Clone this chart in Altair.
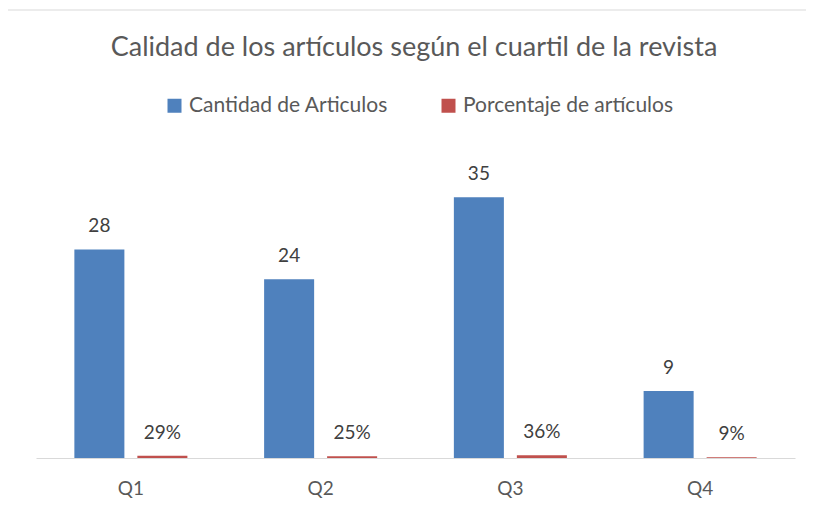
import altair as alt
import pandas as pd

categories = ["Q1", "Q2", "Q3", "Q4"]
cantidad = [28, 24, 35, 9]
porcentaje = [0.29, 0.25, 0.36, 0.09]
series_names = ["Cantidad de Articulos", "Porcentaje de artículos"]
colors = ["#4f81bd", "#c0504d"]
title_text = "Calidad de los artículos según el cuartil de la revista"

rows = []
for c, n, p in zip(categories, cantidad, porcentaje):
    rows.append({"cuartil": c, "serie": series_names[0], "valor": n, "etiqueta": f"{n}"})
    rows.append({"cuartil": c, "serie": series_names[1], "valor": p, "etiqueta": f"{round(p * 100)}%"})
df = pd.DataFrame(rows)

FONT = "Lato"

base = alt.Chart(df).encode(
    x=alt.X(
        "cuartil:N",
        sort=categories,
        scale=alt.Scale(paddingInner=0, paddingOuter=0),
        axis=alt.Axis(
            title=None, labelAngle=0, ticks=False, domainColor="#d9d9d9",
            domainWidth=1, labelFontSize=19, labelColor="#595959",
            labelPadding=21, labelFont=FONT,
        ),
    ),
    xOffset=alt.XOffset(
        "serie:N", sort=series_names,
        scale=alt.Scale(paddingInner=0.206, paddingOuter=0.609),
    ),
    y=alt.Y("valor:Q", scale=alt.Scale(domain=[0, 40]), axis=None),
)

bars = base.mark_bar().encode(
    color=alt.Color(
        "serie:N",
        scale=alt.Scale(domain=series_names, range=colors),
        legend=alt.Legend(
            title=None, orient="none", legendX=128, legendY=-65,
            direction="horizontal", symbolType="square", symbolSize=196,
            symbolStrokeWidth=0, labelFontSize=21, labelFont=FONT,
            labelColor="#595959", columnPadding=50, labelOffset=4,
            labelLimit=400,
        ),
    )
)

text = base.mark_text(
    baseline="bottom", dy=-13, fontSize=19, color="#404040", font=FONT
).encode(text="etiqueta:N")

single = pd.DataFrame({"titulo": [title_text]})

border = alt.Chart(single).mark_rect(
    filled=False, stroke="#d9d9d9", strokeWidth=1
).encode(
    x=alt.value(-32), x2=alt.value(800), y=alt.value(-150), y2=alt.value(420)
)

title_mark = alt.Chart(single).mark_text(
    fontSize=27, font=FONT, color="#595959", align="center", baseline="alphabetic"
).encode(
    text="titulo:N", x=alt.value(378), y=alt.value(-104)
)

chart = alt.layer(border, title_mark, bars, text).properties(
    width=759,
    height=298,
    autosize=alt.AutoSizeParams(type="none"),
    padding={"left": 28, "top": 152, "right": 11, "bottom": 40},
).configure_view(stroke=None)

chart.save("out.html", embed_options={"renderer": "svg", "actions": False})
